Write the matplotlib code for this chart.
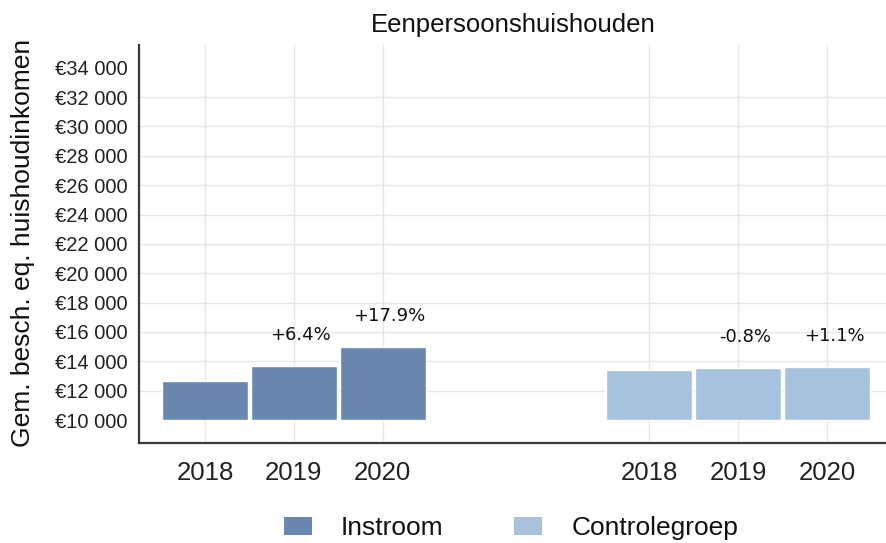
import matplotlib
matplotlib.use("Agg")
import matplotlib.pyplot as plt
from matplotlib.patches import Patch
from matplotlib.ticker import FuncFormatter

# ---- data ----
groups = ["Instroom", "Controlegroep"]
years = ["2018", "2019", "2020"]
instroom = [12680, 13680, 14960]
controle = [13410, 13530, 13620]
instroom_labels = ["", "+6.4%", "+17.9%"]
controle_labels = ["", "-0.8%", "+1.1%"]
yticks = list(range(10000, 34001, 2000))
grid_y = list(range(12000, 32001, 2000))

# ---- style ----
C_IN = "#6888B0"
C_CT = "#A7C2DF"
FONT = "Liberation Sans"

fig = plt.figure(figsize=(8.87, 5.43), dpi=100)
ax = fig.add_axes([139/887, 1-443/543, 1-139/887, (443-45)/543])

pos_in = [1, 2, 3]
pos_ct = [6, 7, 8]
base = 10000
ax.bar(pos_in, [v - base for v in instroom], bottom=base, width=0.97,
       color=C_IN, edgecolor="white", linewidth=1.0, zorder=2)
ax.bar(pos_ct, [v - base for v in controle], bottom=base, width=0.97,
       color=C_CT, edgecolor="white", linewidth=1.0, zorder=2)

for p, v, t in list(zip(pos_in, instroom, instroom_labels)) + list(zip(pos_ct, controle, controle_labels)):
    if t:
        ax.annotate(t, xy=(p, v), xytext=(5, 22.5), textcoords="offset points",
                    ha="center", va="center", fontsize=13, family="DejaVu Sans",
                    color="#111111")

ax.set_xlim(0.257, 8.675)
ax.set_ylim(8440, 35543)

# gridlines
for g in grid_y:
    ax.axhline(g, color="#e6e6e6", linewidth=1.0, zorder=0)
for p in pos_in + pos_ct:
    ax.axvline(p, color="#e6e6e6", linewidth=1.0, zorder=0)

ax.set_yticks(yticks)
ax.yaxis.set_major_formatter(FuncFormatter(lambda v, _: "€" + f"{int(v):,}".replace(",", " ")))
ax.set_xticks(pos_in + pos_ct)
ax.set_xticklabels(years + years)
ax.tick_params(axis="both", length=0)
ax.tick_params(axis="y", pad=8, labelsize=14.5, labelcolor="#222222")
ax.tick_params(axis="x", pad=13, labelsize=18.5, labelcolor="#222222")
for lab in ax.get_xticklabels() + ax.get_yticklabels():
    lab.set_family(FONT)

for s in ["top", "right"]:
    ax.spines[s].set_visible(False)
for s in ["left", "bottom"]:
    ax.spines[s].set_color("#3a3a3a")
    ax.spines[s].set_linewidth(1.6)

ax.set_ylabel("Gem. besch. eq. huishoudinkomen", fontsize=19, family=FONT,
              color="#111111")
ax.yaxis.set_label_coords(-(139-23)/748, (443-243)/398)
ax.yaxis.label.set_va("center")

fig.text((139+887)/2/887, 1-25/543, "Eenpersoonshuishouden", ha="center", va="center",
         fontsize=18.5, family=FONT, color="#111111")

handles = [Patch(facecolor=C_IN, edgecolor="none"), Patch(facecolor=C_CT, edgecolor="none")]
leg = fig.legend(handles, groups, loc="center", bbox_to_anchor=(511/887, 1-528/543),
                 ncol=2, frameon=False, handlelength=1.06, handleheight=0.68,
                 handletextpad=1.1, columnspacing=2.7,
                 prop={"family": FONT, "size": 19})
for t in leg.get_texts():
    t.set_color("#111111")

fig.savefig("out.png", dpi=100)
